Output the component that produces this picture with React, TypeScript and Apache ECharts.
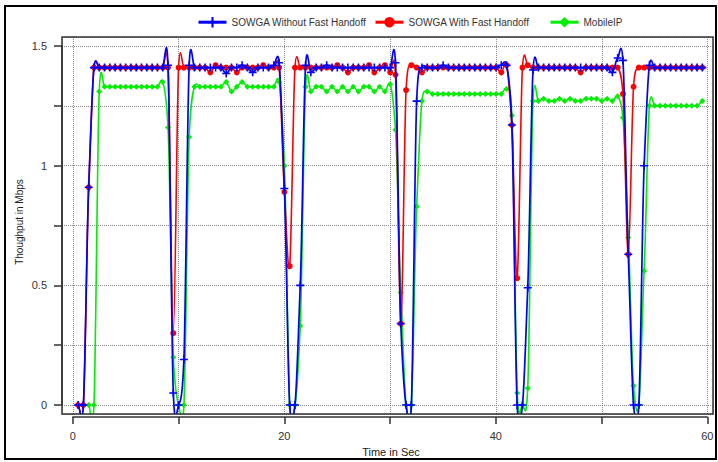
import React, { useEffect, useRef } from "react";
import * as echarts from "echarts";

const FONT = '"Liberation Sans", Arial, "DejaVu Sans", sans-serif';

// sampling grid of the throughput traces (seconds)
const startTime = 0.5;
const timeStep = 0.5;

const seriesNames = ["SOWGA Without Fast Handoff", "SOWGA With Fast Handoff", "MobileIP"];

// Throughput (Mbps), one value every 0.5 s from t = 0.5 s to t = 59.5 s
const withoutFastHandoff = [
  0, 0, 0.91, 1.41, 1.41, 1.41, 1.41, 1.41, 1.41, 1.41,
  1.41, 1.41, 1.41, 1.41, 1.41, 1.41, 1.41, 1.42, 0.05, 0,
  0.19, 1.42, 1.41, 1.41, 1.41, 1.41, 1.41, 1.41, 1.385, 1.41,
  1.41, 1.42, 1.41, 1.39, 1.41, 1.41, 1.41, 1.42, 1.43, 0.905,
  0, 0, 0.5, 1.42, 1.39, 1.41, 1.41, 1.42, 1.41, 1.41,
  1.41, 1.41, 1.41, 1.41, 1.41, 1.41, 1.41, 1.41, 1.41, 1.41,
  1.43, 0.34, 0, 0, 1.27, 1.41, 1.41, 1.41, 1.41, 1.42,
  1.41, 1.41, 1.41, 1.41, 1.41, 1.41, 1.41, 1.41, 1.41, 1.41,
  1.42, 1.42, 1.17, 0, 0, 0.49, 1.4, 1.41, 1.41, 1.41,
  1.41, 1.41, 1.41, 1.41, 1.41, 1.41, 1.41, 1.41, 1.41, 1.41,
  1.41, 1.39, 1.45, 1.44, 0.63, 0, 0, 1.0, 1.42, 1.41,
  1.41, 1.41, 1.41, 1.41, 1.41, 1.41, 1.41, 1.41, 1.41,
];

const withFastHandoff = [
  0, 0, 0.91, 1.41, 1.41, 1.41, 1.41, 1.41, 1.41, 1.41,
  1.41, 1.41, 1.41, 1.41, 1.41, 1.41, 1.41, 1.41, 0.3, 1.41,
  1.41, 1.41, 1.41, 1.41, 1.41, 1.39, 1.42, 1.41, 1.41, 1.41,
  1.39, 1.41, 1.41, 1.41, 1.41, 1.42, 1.41, 1.41, 1.41, 0.89,
  0.58, 1.41, 1.41, 1.41, 1.41, 1.41, 1.41, 1.41, 1.41, 1.42,
  1.41, 1.39, 1.41, 1.41, 1.41, 1.42, 1.39, 1.41, 1.42, 1.39,
  1.38, 0.34, 1.316, 1.42, 1.41, 1.39, 1.41, 1.41, 1.41, 1.41,
  1.41, 1.41, 1.41, 1.41, 1.41, 1.41, 1.41, 1.41, 1.41, 1.41,
  1.39, 1.42, 1.17, 0.53, 1.41, 1.42, 1.41, 1.41, 1.41, 1.41,
  1.41, 1.41, 1.41, 1.41, 1.41, 1.39, 1.41, 1.41, 1.41, 1.41,
  1.41, 1.41, 1.41, 1.3, 0.63, 1.33, 1.41, 1.41, 1.41, 1.41,
  1.41, 1.41, 1.41, 1.41, 1.41, 1.41, 1.41, 1.41, 1.41,
];

const mobileIP = [
  0, 0, 0, 0, 1.31, 1.33, 1.33, 1.33, 1.33, 1.33,
  1.33, 1.33, 1.33, 1.33, 1.33, 1.33, 1.35, 1.16, 0.2, 0,
  0, 1.12, 1.33, 1.33, 1.33, 1.33, 1.33, 1.33, 1.35, 1.31,
  1.33, 1.35, 1.33, 1.33, 1.33, 1.33, 1.33, 1.33, 1.35, 1.0,
  0, 0, 0.33, 1.33, 1.31, 1.33, 1.33, 1.31, 1.33, 1.31,
  1.33, 1.31, 1.33, 1.31, 1.33, 1.33, 1.31, 1.33, 1.31, 1.34,
  1.15, 0.47, 0, 0, 0.83, 1.27, 1.31, 1.3, 1.3, 1.3,
  1.3, 1.3, 1.3, 1.3, 1.3, 1.3, 1.3, 1.3, 1.3, 1.3,
  1.3, 1.32, 1.21, 0.05, 0, 0.07, 1.27, 1.27, 1.28, 1.27,
  1.27, 1.28, 1.27, 1.28, 1.27, 1.27, 1.28, 1.28, 1.28, 1.27,
  1.28, 1.27, 1.29, 1.2, 0.7, 0.08, 0, 0.56, 1.25, 1.25,
  1.25, 1.25, 1.25, 1.25, 1.25, 1.25, 1.25, 1.25, 1.27,
];

const xTickLabels = ["0", "20", "40", "60"];
const yTickLabels = ["0", "0.5", "1", "1.5"];
const xGridStep = 10;
const yGridStep = 0.25;

const times = withoutFastHandoff.map((_, i) => startTime + i * timeStep);

const PLUS = "path://M4,0H6V4H10V6H6V10H4V6H0V4H4Z";

// cardinal-spline slopes (smooth line style of the original plot)
const TENSION = 0.75;
function splineSlopes(ys: number[], h: number): number[] {
  const n = ys.length;
  const d = new Array(n);
  for (let i = 0; i < n; i++) {
    if (i === 0) d[i] = ((ys[1] - ys[0]) / h) * TENSION;
    else if (i === n - 1) d[i] = ((ys[n - 1] - ys[n - 2]) / h) * TENSION;
    else d[i] = ((ys[i + 1] - ys[i - 1]) / (2 * h)) * TENSION;
  }
  return d;
}

function curveSeries(ys: number[], color: string, width: number, z: number) {
  const slopes = splineSlopes(ys, timeStep);
  const h3 = timeStep / 3;
  return {
    type: "custom",
    xAxisIndex: 0,
    yAxisIndex: 0,
    z,
    clip: true,
    silent: true,
    data: ys.map((v, i) => [times[i], v]),
    renderItem: (params: any, api: any) => {
      if (params.dataIndex !== 0) return null;
      const p0 = api.coord([times[0], ys[0]]);
      let d = `M${p0[0]} ${p0[1]}`;
      for (let i = 0; i < ys.length - 1; i++) {
        const c1 = api.coord([times[i] + h3, ys[i] + slopes[i] * h3]);
        const c2 = api.coord([times[i + 1] - h3, ys[i + 1] - slopes[i + 1] * h3]);
        const p1 = api.coord([times[i + 1], ys[i + 1]]);
        d += ` C${c1[0]} ${c1[1]} ${c2[0]} ${c2[1]} ${p1[0]} ${p1[1]}`;
      }
      return {
        type: "path",
        shape: { pathData: d },
        style: { fill: "none", stroke: color, lineWidth: width, lineJoin: "round" },
      };
    },
  };
}

function markerSeries(name: string, ys: number[], color: string, symbol: string, size: number, z: number) {
  return {
    type: "line",
    name,
    xAxisIndex: 0,
    yAxisIndex: 0,
    z,
    data: ys.map((v, i) => [times[i], v]),
    symbol,
    symbolSize: size,
    showSymbol: true,
    itemStyle: { color },
    lineStyle: { color, width: 2, opacity: 0 },
    silent: true,
    clip: true,
  };
}

const gridLineStyle = { color: "#8a8a8a", width: 1, type: [1, 1] };

export default function App() {
  const ref = useRef<HTMLDivElement>(null);

  useEffect(() => {
    if (!ref.current) return;
    const chart = echarts.init(ref.current, null, { renderer: "svg" });

    const legendBase = {
      orient: "horizontal",
      top: 12,
      itemWidth: 28,
      itemHeight: 13,
      selectedMode: false,
      textStyle: { fontFamily: FONT, fontSize: 10, color: "#333" },
      lineStyle: { width: 3, opacity: 1 },
    };

    chart.setOption({
      animation: false,
      backgroundColor: "#ffffff",
      textStyle: { fontFamily: FONT },
      legend: [
        { ...legendBase, left: 192, data: [seriesNames[0]] },
        { ...legendBase, left: 369, data: [seriesNames[1]] },
        { ...legendBase, left: 544, data: [seriesNames[2]] },
      ],
      grid: [
        { left: 62, top: 37, width: 651, height: 377 },
        { left: 72.8, top: 46.1, width: 634.5, height: 358.9 },
      ],
      xAxis: [
        {
          type: "value",
          gridIndex: 0,
          min: -1.021,
          max: 60.51,
          minInterval: xGridStep,
          maxInterval: xGridStep,
          axisLine: { show: false },
          axisTick: { show: false },
          axisLabel: { show: false },
          splitLine: { show: true, lineStyle: gridLineStyle },
        },
        {
          type: "value",
          gridIndex: 1,
          min: 0,
          max: 60,
          interval: 10,
          offset: 12,
          axisLine: { show: true, onZero: false, lineStyle: { color: "#333", width: 1.5 } },
          axisTick: { show: true, length: 7, lineStyle: { color: "#333", width: 1.5 } },
          axisLabel: {
            margin: 13,
            fontSize: 11,
            color: "#333",
            fontFamily: FONT,
            formatter: (v: number) => (xTickLabels.includes(String(v)) ? String(v) : ""),
          },
          splitLine: { show: false },
        },
      ],
      yAxis: [
        {
          type: "value",
          gridIndex: 0,
          min: -0.0376,
          max: 1.5378,
          minInterval: yGridStep,
          maxInterval: yGridStep,
          axisLine: { show: false },
          axisTick: { show: false },
          axisLabel: { show: false },
          splitLine: { show: true, lineStyle: gridLineStyle },
        },
        {
          type: "value",
          gridIndex: 1,
          min: 0,
          max: 1.5,
          interval: 0.25,
          offset: 10.8,
          axisLine: { show: true, onZero: false, lineStyle: { color: "#333", width: 1.5 } },
          axisTick: { show: true, length: 8, lineStyle: { color: "#333", width: 1.5 } },
          axisLabel: {
            margin: 15,
            fontSize: 11,
            color: "#333",
            fontFamily: FONT,
            formatter: (v: number) => (yTickLabels.includes(String(v)) ? String(v) : ""),
          },
          splitLine: { show: false },
        },
      ],
      graphic: [
        {
          type: "rect",
          z: 100,
          silent: true,
          shape: { x: 62, y: 37, width: 651, height: 377 },
          style: { fill: "none", stroke: "#333", lineWidth: 1.5 },
        },
        {
          type: "rect",
          z: 100,
          silent: true,
          shape: { x: 5, y: 6, width: 711, height: 453 },
          style: { fill: "none", stroke: "#000", lineWidth: 2 },
        },
        {
          type: "text",
          x: 19,
          y: 222,
          rotation: Math.PI / 2,
          silent: true,
          style: {
            text: "Thoughput in Mbps",
            fontSize: 10,
            fontFamily: FONT,
            fill: "#222",
            align: "center",
            verticalAlign: "middle",
          },
        },
        {
          type: "text",
          x: 391,
          y: 452,
          silent: true,
          style: {
            text: "Time in Sec",
            fontSize: 11,
            fontFamily: FONT,
            fill: "#222",
            align: "center",
            verticalAlign: "middle",
          },
        },
      ],
      series: [
        curveSeries(mobileIP, "#00ee00", 1.6, 2),
        markerSeries(seriesNames[2], mobileIP, "#00ee00", "diamond", 6, 3),
        curveSeries(withFastHandoff, "#ff0000", 1.6, 4),
        markerSeries(seriesNames[1], withFastHandoff, "#ff0000", "circle", 6, 5),
        curveSeries(withoutFastHandoff, "#0000ff", 1.7, 6),
        markerSeries(seriesNames[0], withoutFastHandoff, "#0000ff", PLUS, 8, 7),
      ],
    });

    return () => chart.dispose();
  }, []);

  return (
    <div
      ref={ref}
      style={{ position: "fixed", left: 0, top: 0, width: 718, height: 462, background: "#fff" }}
    />
  );
}
